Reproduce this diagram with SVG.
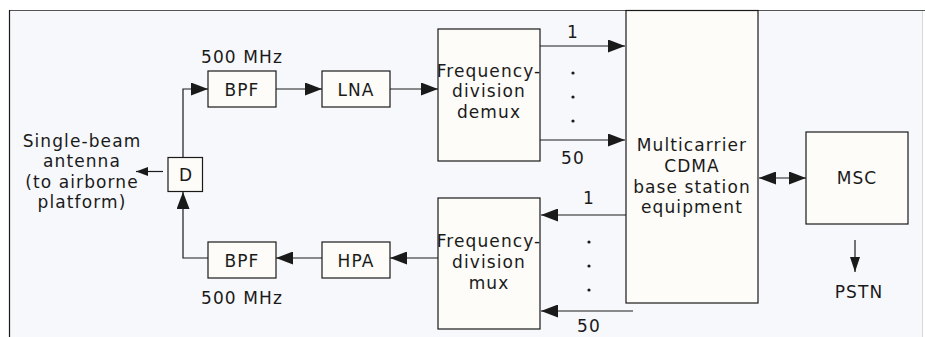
<svg xmlns="http://www.w3.org/2000/svg" width="925" height="337" viewBox="0 0 925 337">
  <style>
    .box { fill: #fdfcf8; stroke: #1a1a1a; stroke-width: 1.2; }
    .ln { stroke: #1a1a1a; stroke-width: 1.2; fill: none; }
    text { font-family: "DejaVu Sans", "Open Sans", sans-serif; font-size: 17px; fill: #1a1a1a; letter-spacing: 1.1px; text-anchor: middle; }
    .dot { fill: #1a1a1a; }
  </style>
  <defs>
    <marker id="ah" markerWidth="17" markerHeight="13" refX="17" refY="6.5" orient="auto" markerUnits="userSpaceOnUse">
      <path d="M0,0 L17,6.5 L0,13 Z" fill="#1a1a1a"/>
    </marker>
    <marker id="ahs" markerWidth="17" markerHeight="13" refX="0" refY="6.5" orient="auto" markerUnits="userSpaceOnUse">
      <path d="M17,0 L0,6.5 L17,13 Z" fill="#1a1a1a"/>
    </marker>
    <marker id="ahm" markerWidth="15" markerHeight="10" refX="15" refY="5" orient="auto" markerUnits="userSpaceOnUse">
      <path d="M0,0 L15,5 L0,10 Z" fill="#1a1a1a"/>
    </marker>
    <marker id="ahsm" markerWidth="12" markerHeight="9" refX="12" refY="4.5" orient="auto" markerUnits="userSpaceOnUse">
      <path d="M0,0 L12,4.5 L0,9 Z" fill="#1a1a1a"/>
    </marker>
  </defs>

  <rect x="0" y="0" width="925" height="337" fill="#ffffff"/>
  <g id="frame">
    <rect x="9.5" y="10.5" width="913" height="330" fill="#f7f8fb"/>
    <line x1="9" y1="10.5" x2="925" y2="10.5" stroke="#555" stroke-width="1.2"/>
    <line x1="9.5" y1="10" x2="9.5" y2="337" stroke="#1a1a1a" stroke-width="1.2"/>
    <line x1="922.5" y1="11" x2="922.5" y2="337" stroke="#d8d8d8" stroke-width="1"/>
  </g>

  <g id="connectors">
    <path class="ln" d="M183,157 V89 H208" marker-end="url(#ah)"/>
    <line class="ln" x1="276" y1="89" x2="322" y2="89" marker-end="url(#ah)"/>
    <line class="ln" x1="390" y1="89" x2="438" y2="89" marker-end="url(#ah)"/>
    <line class="ln" x1="163" y1="171.5" x2="136" y2="171.5" marker-end="url(#ahsm)"/>
    <path class="ln" d="M208,258 H183 V192" marker-end="url(#ah)"/>
    <line class="ln" x1="322" y1="258" x2="276" y2="258" marker-end="url(#ah)"/>
    <line class="ln" x1="438" y1="258" x2="390" y2="258" marker-end="url(#ah)"/>
    <line class="ln" x1="540" y1="46" x2="625" y2="46" marker-end="url(#ah)"/>
    <line class="ln" x1="540" y1="140" x2="625" y2="140" marker-end="url(#ah)"/>
    <line class="ln" x1="626" y1="215" x2="541" y2="215" marker-end="url(#ah)"/>
    <line class="ln" x1="633" y1="311" x2="541" y2="311" marker-end="url(#ah)"/>
    <line class="ln" x1="759" y1="178" x2="806" y2="178" marker-start="url(#ahs)" marker-end="url(#ah)"/>
    <line class="ln" x1="855" y1="240" x2="855" y2="272" marker-end="url(#ahm)"/>
  </g>

  <g id="antenna">
    <text x="82" y="147">Single-beam</text>
    <text x="82" y="167">antenna</text>
    <text x="82" y="188">(to airborne</text>
    <text x="82" y="208">platform)</text>
  </g>

  <g id="D">
    <rect class="box" x="168" y="157.5" width="34.5" height="34"/>
    <text x="186" y="181">D</text>
  </g>

  <g id="bpf-rx">
    <rect class="box" x="208" y="71" width="68" height="36"/>
    <text x="242" y="96">BPF</text>
    <text x="242" y="63">500 MHz</text>
  </g>

  <g id="lna">
    <rect class="box" x="322" y="71" width="68" height="36"/>
    <text x="356" y="96">LNA</text>
  </g>

  <g id="demux">
    <rect class="box" x="438" y="29" width="102" height="132"/>
    <text x="489" y="77">Frequency-</text>
    <text x="489" y="97">division</text>
    <text x="489" y="118">demux</text>
  </g>

  <g id="bpf-tx">
    <rect class="box" x="208" y="242" width="68" height="36"/>
    <text x="242" y="267">BPF</text>
    <text x="242" y="304">500 MHz</text>
  </g>

  <g id="hpa">
    <rect class="box" x="322" y="242" width="68" height="36"/>
    <text x="356" y="267">HPA</text>
  </g>

  <g id="mux">
    <rect class="box" x="438" y="198" width="102" height="131"/>
    <text x="489" y="247">Frequency-</text>
    <text x="489" y="268">division</text>
    <text x="489" y="289">mux</text>
  </g>

  <g id="base-station">
    <rect class="box" x="626" y="10.5" width="132" height="292.5"/>
    <text x="692" y="151">Multicarrier</text>
    <text x="692" y="172">CDMA</text>
    <text x="692" y="193">base station</text>
    <text x="692" y="213">equipment</text>
  </g>

  <g id="channel-labels">
    <text x="573" y="38">1</text>
    <circle class="dot" cx="573" cy="73" r="1.6"/>
    <circle class="dot" cx="573" cy="97" r="1.6"/>
    <circle class="dot" cx="573" cy="121" r="1.6"/>
    <text x="573" y="164">50</text>
    <text x="589" y="204">1</text>
    <circle class="dot" cx="589" cy="242" r="1.6"/>
    <circle class="dot" cx="589" cy="266" r="1.6"/>
    <circle class="dot" cx="589" cy="290" r="1.6"/>
    <text x="589" y="332">50</text>
  </g>

  <g id="msc">
    <rect class="box" x="806" y="132" width="102" height="92"/>
    <text x="857" y="184">MSC</text>
  </g>

  <g id="pstn">
    <text x="859" y="298">PSTN</text>
  </g>
</svg>
